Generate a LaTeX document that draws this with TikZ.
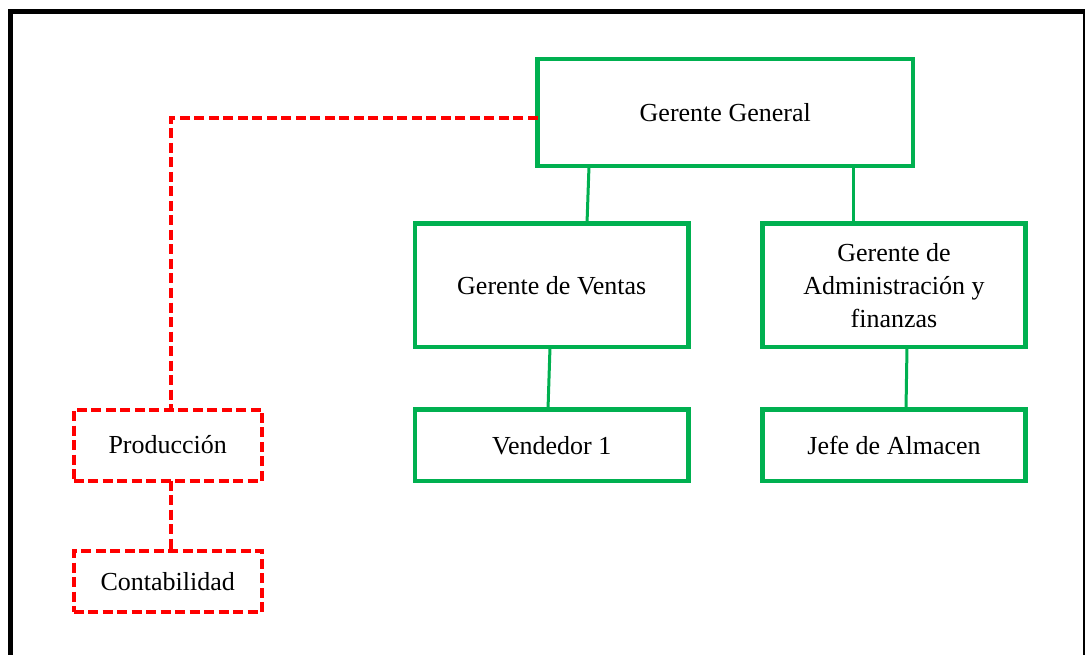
\documentclass[tikz,border=0pt]{standalone}
\usepackage{fontspec}
\setmainfont{Liberation Serif}
\usetikzlibrary{calc}
\definecolor{orggreen}{RGB}{0,176,80}
\definecolor{orgred}{RGB}{255,0,0}
\tikzset{
  unit/.style={draw=orggreen, line width=4.5pt, inner sep=0pt, outer sep=0pt,
    align=center, font=\fontsize{26}{33}\selectfont},
  staff/.style={draw=orgred, line width=4pt, dash pattern=on 10pt off 4.5pt,
    inner sep=0pt, outer sep=0pt, align=center, font=\fontsize{26}{33}\selectfont},
  solidlink/.style={draw=orggreen, line width=3pt},
  staffLink/.style={draw=orgred, line width=3.5pt, dash pattern=on 10pt off 4.5pt}
}
\begin{document}
\begin{tikzpicture}[x=1pt,y=-1pt]
  \useasboundingbox (0,0) rectangle (1085,655);
  \clip (0,0) rectangle (1085,655);
  % outer frame
  \draw[line width=5pt] (10.5,11.5) rectangle (1085.5,720);

  % line units
  \node[unit, minimum width=375.5pt, minimum height=107pt] (gg) at (725.25,112.5) {Gerente General};
  \node[unit, minimum width=273.5pt, minimum height=123.5pt] (gv) at (551.75,285.25) {Gerente de Ventas};
  \node[unit, minimum width=263pt, minimum height=123.5pt] (ga) at (894,285.25) {Gerente de\\Administración y\\finanzas};
  \node[unit, minimum width=273.5pt, minimum height=71.5pt] (v1) at (551.75,445.25) {Vendedor 1};
  \node[unit, minimum width=263pt, minimum height=71.5pt] (ja) at (894,445.25) {Jefe de Almacen};

  % staff units
  \node[staff, minimum width=188.5pt, minimum height=71pt] (prod) at (167.75,445) {Producción};
  \node[staff, minimum width=188.5pt, minimum height=61pt] (cont) at (167.75,581.5) {Contabilidad};

  % reporting lines
  \draw[solidlink] ($(gg.south west)+(51.5,0)$) -- ($(gv.north west)+(172,0)$);
  \draw[solidlink] ($(gg.south west)+(315.5,0)$) -- ($(ga.north west)+(90.5,0)$);
  \draw[solidlink] ($(gv.south west)+(135,0)$) -- ($(v1.north west)+(133,0)$);
  \draw[solidlink] ($(ga.south west)+(144.5,0)$) -- ($(ja.north west)+(143.5,0)$);

  % staff lines
  \draw[staffLink] ($(gg.west)+(0,5.5)$) -| ($(prod.north)+(3.25,0)$);
  \draw[staffLink] ($(prod.south)+(3.25,0)$) -- ($(cont.north)+(3.25,0)$);
\end{tikzpicture}
\end{document}
